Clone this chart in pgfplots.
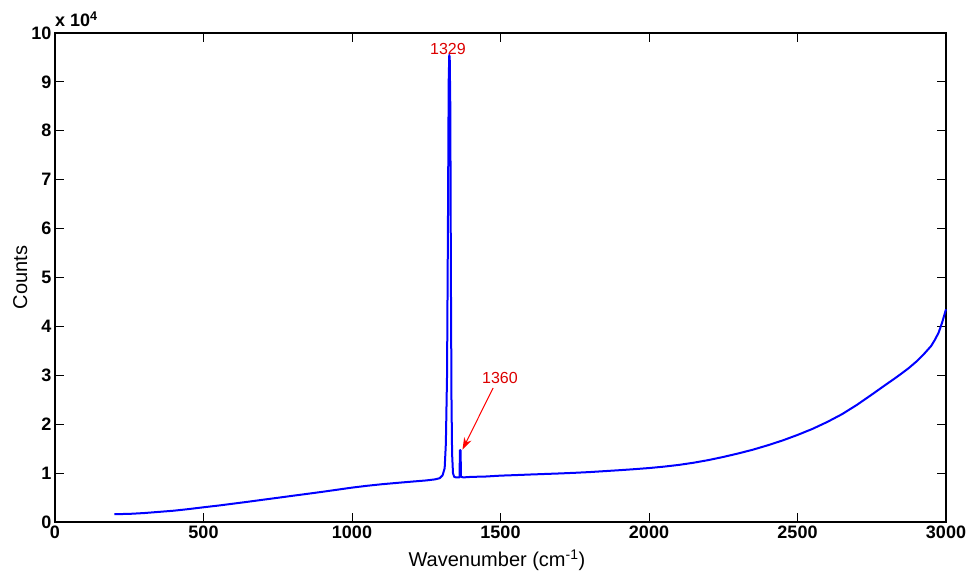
\documentclass[border=0pt]{standalone}
\usepackage{pgfplots}
\pgfplotsset{compat=1.18}
\usepackage{fontspec}
\setmainfont{Liberation Sans}
\usetikzlibrary{arrows.meta}
\pgfplotstableread{
x y
200 0.160
250 0.166
300 0.183
350 0.207
400 0.231
450 0.264
500 0.301
550 0.336
600 0.375
650 0.414
700 0.455
750 0.495
800 0.536
850 0.576
900 0.617
950 0.660
1000 0.703
1050 0.740
1100 0.772
1150 0.799
1200 0.825
1250 0.850
1280 0.872
1295 0.895
1305 0.955
1312 1.10
1316 1.60
1320 3.00
1323 6.00
1325.5 9.00
1327.5 9.55
1329 9.50
1331 8.50
1333 5.00
1335 2.50
1337 1.40
1340 1.00
1344 0.925
1350 0.912
1362 0.915
1363.5 1.47
1365.5 1.47
1367 0.925
1375 0.912
1400 0.922
1450 0.930
1500 0.948
1550 0.959
1600 0.971
1650 0.982
1700 0.993
1750 1.006
1800 1.021
1850 1.040
1900 1.059
1950 1.080
2000 1.103
2050 1.132
2100 1.167
2150 1.212
2200 1.266
2250 1.330
2300 1.401
2350 1.479
2400 1.569
2450 1.668
2500 1.780
2550 1.903
2600 2.045
2650 2.205
2700 2.395
2750 2.605
2800 2.820
2825 2.925
2850 3.035
2875 3.150
2900 3.280
2925 3.430
2950 3.600
2962 3.720
2975 3.870
2987 4.080
3000 4.350
}\spectrum
\begin{document}
\begin{tikzpicture}
\path[use as bounding box] (-55pt,-55pt) rectangle (916pt,522pt);
\begin{axis}[
  at={(0pt,0pt)}, anchor=south west,
  scale only axis, width=891pt, height=489pt,
  xmin=0, xmax=3000, ymin=0, ymax=10,
  xtick={0,500,...,3000}, ytick={0,1,...,10},
  tick align=inside, major tick length=9pt,
  axis line style={line width=1.5pt},
  every tick/.style={line width=1pt, black},
  /pgf/number format/assume math mode=true,
  /pgf/number format/1000 sep={},
  ticklabel style={font=\fontsize{18}{18}\selectfont\bfseries},
  xlabel={Wavenumber (cm\textsuperscript{-1})},
  ylabel={Counts},
  label style={font=\fontsize{20}{20}\selectfont},
  x label style={at={(axis description cs:0.496,-0.092)}, anchor=base},
  y label style={at={(axis description cs:-0.039,0.5)}, anchor=center},
  clip=false,
]
\addplot[color={rgb,255:red,0;green,0;blue,255}, line width=2pt, line join=round] table[x=x,y=y] {\spectrum};
\node[text={rgb,255:red,220;green,0;blue,0}, font=\fontsize{16}{16}\selectfont, anchor=base] at (axis cs:1323,9.57) {1329};
\node[text={rgb,255:red,220;green,0;blue,0}, font=\fontsize{16}{16}\selectfont, anchor=base] at (axis cs:1498,2.84) {1360};
\draw[color={rgb,255:red,255;green,0;blue,0}, line width=1pt, -{Stealth[length=12pt,width=8pt]}] (axis cs:1475,2.74) -- (axis cs:1372,1.48);
\node[anchor=base west, font=\fontsize{18}{18}\selectfont\bfseries, inner sep=0pt] at (rel axis cs:0,1) [yshift=6pt] {x 10\textsuperscript{4}};
\end{axis}
\end{tikzpicture}
\end{document}
